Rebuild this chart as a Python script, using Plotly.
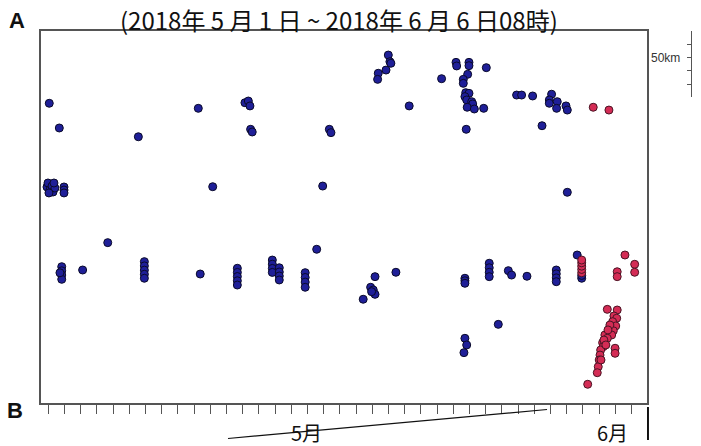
import datetime as dt
import plotly.graph_objects as go

BASE = dt.datetime(2018, 5, 1)

# ---- data: days since 2018-05-01 00:00, position (km) ----
blue_day = [0.06, 0.68, 5.56, 9.26, 12.14, 12.35, 12.45, 12.49, 12.59, 10.15,
            -0.08, -0.02, 0.10, 0.23, 0.29, 0.41, 0.04, 0.35,
            0.97, 0.97, 0.97,
            20.99, 21.09, 21.15, 20.85, 20.37, 20.33,
            17.35, 17.45, 16.94, 22.28, 24.28,
            25.17, 25.21, 25.97, 25.97, 27.04,
            25.89, 25.62, 25.62,
            25.77, 25.97, 25.72, 25.83, 26.14, 26.20,
            25.86, 26.30, 26.88, 25.80,
            28.91, 29.22, 29.90,
            31.07, 30.93, 30.93, 31.42, 31.38, 31.96, 32.04,
            30.48, 32.04,
            0.83, 0.83, 0.83, 0.83, 0.72,
            2.12, 3.67,
            5.93, 5.93, 5.93, 5.93, 5.93,
            9.38,
            11.67, 11.67, 11.67, 11.67, 11.67,
            13.83, 13.83, 13.83, 13.83,
            14.26, 14.26, 14.26, 14.26,
            15.86, 15.86, 15.86, 15.86,
            16.57,
            20.17, 21.46, 19.90, 20.06, 20.17, 19.96, 19.44,
            25.72, 25.72, 25.72,
            25.72, 25.83, 25.66,
            27.22, 27.22, 27.22, 27.22,
            28.40, 28.60, 29.55, 27.78,
            31.36, 31.36, 31.36, 31.36,
            32.65, 32.93, 32.93]
blue_km = [225.6, 207.0, 200.4, 221.8, 226.0, 227.3, 223.6, 206.0, 204.0, 162.8,
           162.6, 165.6, 160.3, 163.3, 158.8, 161.8, 158.1, 165.6,
           162.6, 160.3, 158.1,
           261.9, 256.9, 255.7, 250.6, 248.2, 243.6,
           206.0, 203.5, 163.3, 223.6, 244.1,
           256.4, 253.7, 256.4, 253.9, 252.4,
           247.4, 243.6, 240.6,
           233.6, 233.1, 230.6, 228.1, 226.8, 225.1,
           222.6, 221.3, 221.8, 206.0,
           231.8, 231.8, 231.1,
           232.4, 228.1, 225.6, 226.8, 221.8, 223.6, 220.5,
           208.7, 158.6,
           102.6, 99.5, 96.3, 93.1, 98.0,
           100.1, 120.7,
           106.4, 103.2, 100.0, 96.9, 93.9,
           97.1,
           101.4, 98.3, 95.2, 92.0, 88.8,
           107.6, 104.5, 101.3, 98.3,
           101.8, 98.6, 95.6, 92.6,
           98.1, 94.5, 91.0, 87.1,
           115.7,
           95.1, 98.4, 87.1, 85.1, 81.8, 83.8, 78.1,
           93.9, 92.0, 90.1,
           48.7, 43.7, 37.9,
           105.2, 101.8, 98.4, 95.1,
           99.6, 96.3, 95.4, 59.2,
           100.1, 97.2, 94.2, 91.3,
           111.4, 93.9, 96.0]

red_day = [32.93, 32.93, 32.93, 32.93, 32.93,
           33.64, 34.61,
           35.60, 36.20, 36.20, 35.12, 35.12,
           34.51, 35.12, 34.92, 35.09, 34.84, 35.03, 34.88, 34.78, 34.36,
           34.51, 34.22, 34.26, 34.10, 34.06, 34.01, 33.95, 33.89,
           34.99, 34.99, 33.30,
           34.67, 34.55, 34.30, 34.42, 34.12]
red_km = [98.0, 100.5, 103.0, 105.5, 107.6,
          222.6, 220.5,
          111.4, 104.4, 98.4, 98.8, 95.1,
          70.5, 70.0, 65.5, 63.8, 61.2, 58.0, 54.4, 51.2, 51.2,
          48.7, 45.4, 42.4, 39.9, 36.1, 32.4, 27.3, 22.8,
          41.2, 37.4, 14.1,
          58.7, 55.0, 47.4, 43.7, 32.4]

month_labels = ["5月", "6月"]
month_label_day = [15.96, 34.8]
title_text = "(2018年 5 月 1 日 ~ 2018年 6 月 6 日08時)"
scale_text = "50km"
scale_km = [230, 280]

def to_dt(days):
    return [BASE + dt.timedelta(days=d) for d in days]

X0 = BASE + dt.timedelta(days=-0.45)
X1 = BASE + dt.timedelta(days=36.96)
AX = "#555555"

fig = go.Figure()
fig.add_trace(go.Scatter(
    x=to_dt(blue_day), y=blue_km, mode="markers",
    marker=dict(size=8, color="#1f1f98", line=dict(color="#0a0a2a", width=1)),
    showlegend=False, hoverinfo="skip"))
fig.add_trace(go.Scatter(
    x=to_dt(red_day), y=red_km, mode="markers",
    marker=dict(size=8, color="#d42c55", line=dict(color="#4a1424", width=1)),
    showlegend=False, hoverinfo="skip"))
# invisible carrier so the scale-bar axis (y2) is drawn
fig.add_trace(go.Scatter(x=[X0, X0], y=scale_km, yaxis="y2", mode="markers",
                         marker=dict(opacity=0), showlegend=False, hoverinfo="skip"))

fig.update_layout(
    width=701, height=446,
    margin=dict(l=41, r=10, t=31, b=43),
    paper_bgcolor="white", plot_bgcolor="rgba(0,0,0,0)",
    font=dict(family="Noto Sans CJK JP", color="#111111"),
    xaxis=dict(
        type="date", range=[X0, X1], domain=[0, 0.9323],
        showgrid=False, zeroline=False,
        showline=True, linecolor=AX, linewidth=1.5, mirror=True,
        ticks="outside", ticklen=20, tickwidth=1.2, tickcolor=AX,
        tickvals=[BASE + dt.timedelta(days=31)], ticktext=[""],
        showticklabels=False,
        minor=dict(ticks="outside", ticklen=9, tickwidth=1.2, tickcolor=AX,
                   tick0=BASE, dtick=86400000, showgrid=False),
    ),
    yaxis=dict(
        range=[0, 280], showgrid=False, zeroline=False,
        showline=True, linecolor=AX, linewidth=1.5, mirror=True,
        ticks="", showticklabels=False,
    ),
    yaxis2=dict(
        range=scale_km, domain=[230 / 280, 1.0],
        anchor="free", position=1.0, side="right",
        showgrid=False, zeroline=False,
        showline=True, linecolor=AX, linewidth=1.2,
        ticks="inside", ticklen=12, tickwidth=1.2, tickcolor=AX,
        tickvals=scale_km, ticktext=["", ""], showticklabels=False,
        minor=dict(ticks="inside", ticklen=4, tickwidth=1.2, tickcolor=AX,
                   dtick=10, tick0=230, showgrid=False),
    ),
)

ann = []
ann.append(dict(text=title_text, xref="paper", yref="paper", x=0.4585, y=1.0833,
                xanchor="center", yanchor="top", showarrow=False,
                font=dict(size=24, family="Noto Sans CJK JP", color="#111")))
ann.append(dict(text="<b>A</b>", xref="paper", yref="paper", x=-0.0369, y=1.027,
                xanchor="center", yanchor="middle", showarrow=False,
                font=dict(size=22, family="Liberation Sans", color="#111")))
ann.append(dict(text="<b>B</b>", xref="paper", yref="paper", x=-0.040, y=-0.0215,
                xanchor="center", yanchor="middle", showarrow=False,
                font=dict(size=22, family="Liberation Sans", color="#111")))
for lab, d in zip(month_labels, month_label_day):
    ann.append(dict(text=lab, xref="x", yref="paper",
                    x=BASE + dt.timedelta(days=d), y=-0.0780,
                    xanchor="center", yanchor="middle", showarrow=False,
                    font=dict(size=20, family="Noto Sans CJK JP", color="#111")))
ann.append(dict(text=scale_text, xref="paper", yref="y2", x=0.9615, y=260,
                xanchor="center", yanchor="middle", showarrow=False,
                font=dict(size=12, family="Liberation Sans", color="#333")))
fig.update_layout(annotations=ann)

fig.update_layout(shapes=[
    dict(type="line", xref="paper", yref="paper", x0=0.2877, y0=-0.0954,
         x1=0.7785, y1=-0.0175, line=dict(color="#111", width=1.2)),
    dict(type="line", xref="paper", yref="paper", x0=0.9338, y0=-0.0108,
         x1=0.9338, y1=-0.0995, line=dict(color="#111", width=2)),
])

fig.write_html("out.html", config={"displayModeBar": False},
               post_script="document.body.style.margin='0';")
